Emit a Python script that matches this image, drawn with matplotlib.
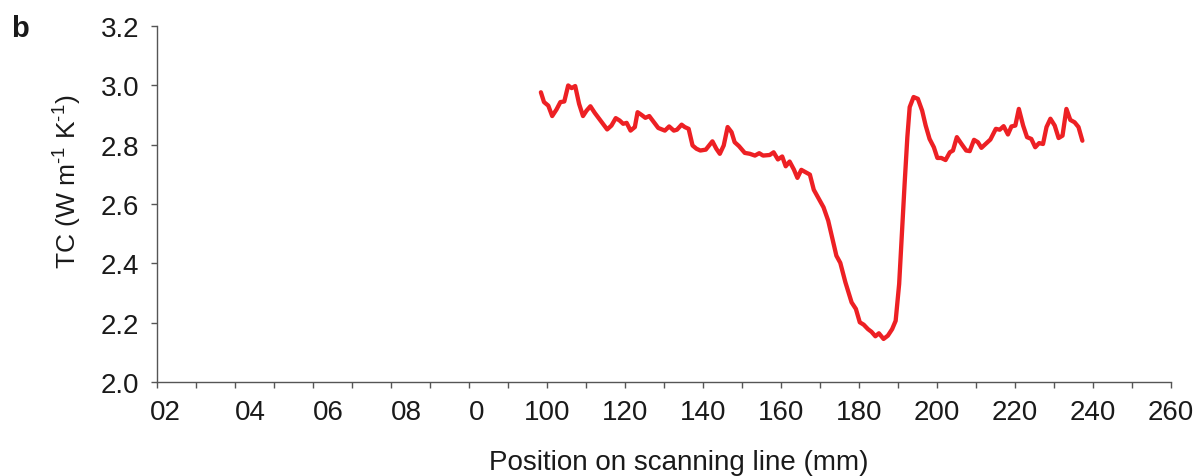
import matplotlib
matplotlib.use("Agg")
import matplotlib.pyplot as plt
from matplotlib.ticker import FixedLocator, MultipleLocator

# ---- data ----
position_mm = [98.4, 99.2, 100.3, 101.3, 102.4, 103.4, 104.4, 105.4, 106.3, 107.2,
               108.2, 109.2, 110.1, 111.1, 112.2, 113.5, 115.4, 116.5, 117.6, 118.6,
               119.5, 120.4, 121.4, 122.5, 123.2, 124.2, 125.2, 126.2, 127.4, 128.5,
               130.2, 131.3, 132.5, 133.3, 134.5, 135.3, 136.3, 137.3, 138.3, 139.3,
               140.7, 142.4, 143.4, 144.3, 145.3, 146.3, 147.3, 148.1, 149.2, 150.7,
               152.0, 153.3, 154.4, 155.4, 157.1, 158.1, 159.2, 160.3, 161.2, 162.2,
               163.3, 164.2, 165.2, 166.3, 167.4, 168.4, 169.7, 170.9, 172.1, 173.2,
               174.2, 175.2, 176.5, 178.1, 179.2, 180.2, 181.2, 182.3, 183.2, 184.2,
               185.1, 186.3, 187.4, 188.5, 189.4, 190.3, 191.0, 191.7, 192.4, 193.0,
               194.0, 195.1, 196.2, 197.1, 198.1, 199.2, 200.1, 201.1, 202.2, 203.3,
               204.1, 205.1, 206.3, 207.5, 208.4, 209.5, 210.5, 211.4, 212.7, 213.7,
               215.1, 216.1, 217.1, 218.2, 219.1, 220.1, 221.0, 222.1, 223.1, 224.2,
               225.2, 226.2, 227.2, 228.1, 229.1, 230.2, 231.2, 232.2, 233.2, 234.2,
               235.3, 236.3, 237.3]
tc_values = [2.976, 2.943, 2.931, 2.896, 2.918, 2.943, 2.945, 2.999, 2.990, 2.997,
             2.937, 2.896, 2.914, 2.929, 2.907, 2.884, 2.851, 2.864, 2.889, 2.881,
             2.870, 2.873, 2.847, 2.859, 2.909, 2.900, 2.890, 2.896, 2.875, 2.856,
             2.847, 2.861, 2.847, 2.850, 2.867, 2.859, 2.853, 2.797, 2.786, 2.780,
             2.783, 2.811, 2.786, 2.769, 2.797, 2.859, 2.842, 2.808, 2.795, 2.772,
             2.769, 2.763, 2.771, 2.763, 2.765, 2.774, 2.750, 2.760, 2.727, 2.743,
             2.716, 2.688, 2.715, 2.707, 2.699, 2.648, 2.617, 2.589, 2.544, 2.482,
             2.426, 2.402, 2.337, 2.269, 2.247, 2.202, 2.194, 2.179, 2.170, 2.155,
             2.165, 2.146, 2.157, 2.179, 2.207, 2.331, 2.499, 2.668, 2.825, 2.926,
             2.960, 2.954, 2.914, 2.864, 2.819, 2.791, 2.755, 2.755, 2.748, 2.774,
             2.780, 2.825, 2.802, 2.780, 2.778, 2.816, 2.808, 2.789, 2.805, 2.817,
             2.853, 2.850, 2.862, 2.834, 2.861, 2.864, 2.920, 2.864, 2.825, 2.819,
             2.791, 2.805, 2.802, 2.859, 2.887, 2.864, 2.822, 2.830, 2.920, 2.883,
             2.875, 2.859, 2.813]
x_tick_labels = ["02", "04", "06", "08", "0", "100", "120", "140", "160", "180",
                 "200", "220", "240", "260"]
y_ticks = [2.0, 2.2, 2.4, 2.6, 2.8, 3.0, 3.2]

# layout (label anchor positions on the x axis)
x_label_pos = [2, 24, 44, 64, 82, 100, 120, 140, 160, 180, 200, 220, 240, 260]

plt.rcParams['font.family'] = ['Liberation Sans', 'DejaVu Sans']
plt.rcParams['mathtext.fontset'] = 'custom'
plt.rcParams['mathtext.rm'] = 'Liberation Sans'
plt.rcParams['mathtext.it'] = 'Liberation Sans'

FS = 20
TXT = '#1a1a1a'

fig = plt.figure(figsize=(11.96, 4.77), dpi=100)
ax = fig.add_axes([0.1315, 0.1964, 0.8475, 0.7476])

ax.plot(position_mm, tc_values, color='#ED2024', linewidth=3.1,
        solid_joinstyle='round', solid_capstyle='round')

ax.set_xlim(0, 260)
ax.set_ylim(2.0, 3.2)

spine_c = '#555555'
for s in ['top', 'right']:
    ax.spines[s].set_visible(False)
for s in ['left', 'bottom']:
    ax.spines[s].set_color(spine_c)
    ax.spines[s].set_linewidth(1.0)

ax.set_yticks(y_ticks)
ax.set_yticklabels([f"{v:.1f}" for v in y_ticks])
ax.tick_params(axis='y', direction='out', length=4, width=1.0, color=spine_c,
               labelsize=FS, pad=9, labelcolor=TXT)

ax.xaxis.set_major_locator(FixedLocator(x_label_pos))
ax.set_xticklabels(x_tick_labels)
ax.xaxis.set_minor_locator(MultipleLocator(10))
ax.xaxis.remove_overlapping_locs = False
ax.tick_params(axis='x', which='major', length=0, labelsize=FS, pad=12,
               labelcolor=TXT)
ax.tick_params(axis='x', which='minor', direction='out', length=4, width=1.0,
               color=spine_c)

ax.set_xlabel("Position on scanning line (mm)", fontsize=FS, color=TXT,
              va='center', ha='center')
ax.xaxis.set_label_coords(0.514, -0.2234)
ax.set_ylabel("TC (W m$^{\\mathregular{\u20101}}$ K$^{\\mathregular{\u20101}}$)",
              fontsize=FS - 1, color=TXT, va='center', ha='center')
ax.yaxis.set_label_coords(-0.0878, 0.564)

fig.text(0.0095, 0.94, "b", fontsize=21, fontweight='bold', color=TXT,
         va='center', ha='left')

fig.savefig("out.png", dpi=100)
